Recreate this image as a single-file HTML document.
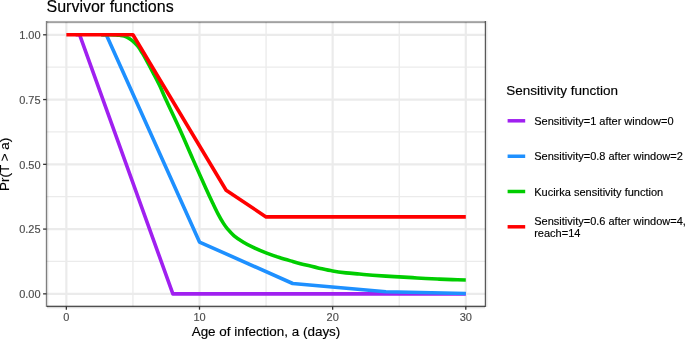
<!DOCTYPE html>
<html><head><meta charset="utf-8"><style>
html,body{margin:0;padding:0;background:#fff;}
svg{display:block;will-change:transform;}
text{font-family:"Liberation Sans",sans-serif;stroke-width:0.15px;}
.k{stroke:#000;}
.mn{stroke:#EBEBEB;stroke-width:1.3;}
.mj{stroke:#EBEBEB;stroke-width:2.2;}
.tk{stroke:#333333;stroke-width:1.3;}
.tl{font-size:11px;fill:#4D4D4D;stroke:#4D4D4D;}
.lt{font-size:11px;fill:#000;stroke:#000;}
.dl{fill:none;stroke-width:3.6;stroke-linejoin:round;stroke-linecap:butt;}
</style></head><body>
<svg width="685" height="339" viewBox="0 0 685 339">
<rect width="685" height="339" fill="#fff"/>
<line x1="132.93" y1="22.0" x2="132.93" y2="306.4" class="mn"/><line x1="266.07" y1="22.0" x2="266.07" y2="306.4" class="mn"/><line x1="399.23" y1="22.0" x2="399.23" y2="306.4" class="mn"/><line x1="46.4" y1="261.47" x2="485.45" y2="261.47" class="mn"/><line x1="46.4" y1="196.71" x2="485.45" y2="196.71" class="mn"/><line x1="46.4" y1="131.94" x2="485.45" y2="131.94" class="mn"/><line x1="46.4" y1="67.18" x2="485.45" y2="67.18" class="mn"/><line x1="66.35" y1="22.0" x2="66.35" y2="306.4" class="mj"/><line x1="199.50" y1="22.0" x2="199.50" y2="306.4" class="mj"/><line x1="332.65" y1="22.0" x2="332.65" y2="306.4" class="mj"/><line x1="465.80" y1="22.0" x2="465.80" y2="306.4" class="mj"/><line x1="46.4" y1="293.85" x2="485.45" y2="293.85" class="mj"/><line x1="46.4" y1="229.09" x2="485.45" y2="229.09" class="mj"/><line x1="46.4" y1="164.33" x2="485.45" y2="164.33" class="mj"/><line x1="46.4" y1="99.56" x2="485.45" y2="99.56" class="mj"/><line x1="46.4" y1="34.80" x2="485.45" y2="34.80" class="mj"/>
<polyline points="75.67,34.80 79.66,34.80 172.87,293.85 465.80,293.85" class="dl" stroke="#A020F0"/>
<polyline points="102.30,34.80 106.29,34.80 199.50,242.04 292.70,283.49 385.91,291.78 465.80,293.44" class="dl" stroke="#1E90FF"/>
<path d="M100.97,34.80 C102.30,34.80 106.74,34.77 108.96,34.80 C111.18,34.83 112.51,34.89 114.28,34.98 C116.06,35.07 117.95,35.13 119.61,35.32 C121.27,35.50 122.61,35.53 124.27,36.10 C125.93,36.66 127.93,37.65 129.60,38.69 C131.26,39.72 132.81,40.97 134.26,42.31 C135.70,43.65 136.92,44.95 138.25,46.72 C139.58,48.49 140.91,50.73 142.25,52.93 C143.58,55.14 144.46,56.69 146.24,59.93 C148.02,63.17 150.68,68.13 152.90,72.36 C155.12,76.59 157.34,80.65 159.56,85.31 C161.77,89.98 162.88,93.09 166.21,100.34 C169.54,107.59 175.09,119.03 179.53,128.84 C183.97,138.64 188.40,149.13 192.84,159.14 C197.28,169.16 202.83,181.59 206.16,188.93 C209.49,196.27 210.82,198.99 212.81,203.18 C214.81,207.37 216.37,210.69 218.14,214.06 C219.92,217.43 221.91,220.93 223.47,223.39 C225.02,225.85 225.69,226.76 227.46,228.83 C229.24,230.90 231.46,233.58 234.12,235.82 C236.78,238.07 240.33,240.40 243.44,242.30 C246.55,244.20 248.99,245.45 252.76,247.22 C256.53,248.99 261.64,251.19 266.07,252.92 C270.51,254.65 274.95,256.16 279.39,257.58 C283.83,259.01 288.27,260.22 292.70,261.47 C297.14,262.72 301.58,263.97 306.02,265.10 C310.46,266.22 314.90,267.21 319.33,268.20 C323.77,269.20 328.21,270.28 332.65,271.05 C337.09,271.83 341.53,272.37 345.97,272.87 C350.40,273.36 354.84,273.64 359.28,274.03 C363.72,274.42 368.16,274.85 372.60,275.20 C377.03,275.54 381.47,275.82 385.91,276.11 C390.35,276.39 394.79,276.62 399.23,276.88 C403.66,277.14 408.10,277.40 412.54,277.66 C416.98,277.92 421.42,278.20 425.86,278.44 C430.29,278.67 434.73,278.89 439.17,279.08 C443.61,279.28 448.05,279.45 452.49,279.60 C456.92,279.75 463.58,279.93 465.80,279.99" class="dl" stroke="#00CD00"/>
<polyline points="66.35,34.80 132.93,34.80 226.13,190.23 266.07,216.91 465.80,216.91" class="dl" stroke="#FF0000"/>
<rect x="45" y="21" width="1" height="286" fill="#000" fill-opacity="0.09"/><rect x="46" y="21" width="1" height="286" fill="#000" fill-opacity="0.5"/><rect x="47" y="21" width="1" height="286" fill="#000" fill-opacity="0.14"/><rect x="48" y="21" width="1" height="286" fill="#000" fill-opacity="0.04"/><rect x="484" y="21" width="1" height="286" fill="#000" fill-opacity="0.15"/><rect x="485" y="21" width="1" height="286" fill="#000" fill-opacity="0.65"/><rect x="486" y="21" width="1" height="286" fill="#000" fill-opacity="0.1"/><rect x="487" y="21" width="1" height="286" fill="#000" fill-opacity="0.04"/><rect x="47" y="20" width="438" height="1" fill="#000" fill-opacity="0.02"/><rect x="47" y="21" width="438" height="1" fill="#000" fill-opacity="0.31"/><rect x="47" y="22" width="438" height="1" fill="#000" fill-opacity="0.37"/><rect x="47" y="23" width="438" height="1" fill="#000" fill-opacity="0.06"/><rect x="47" y="305" width="438" height="1" fill="#000" fill-opacity="0.22"/><rect x="47" y="306" width="438" height="1" fill="#000" fill-opacity="0.69"/><rect x="47" y="307" width="438" height="1" fill="#000" fill-opacity="0.15"/><rect x="47" y="308" width="438" height="1" fill="#000" fill-opacity="0.04"/>
<line x1="66.35" y1="306.4" x2="66.35" y2="309.7" class="tk"/><text x="66.35" y="320.5" text-anchor="middle" class="tl">0</text><line x1="199.50" y1="306.4" x2="199.50" y2="309.7" class="tk"/><text x="199.50" y="320.5" text-anchor="middle" class="tl">10</text><line x1="332.65" y1="306.4" x2="332.65" y2="309.7" class="tk"/><text x="332.65" y="320.5" text-anchor="middle" class="tl">20</text><line x1="465.80" y1="306.4" x2="465.80" y2="309.7" class="tk"/><text x="465.80" y="320.5" text-anchor="middle" class="tl">30</text><line x1="43.1" y1="293.85" x2="46.4" y2="293.85" class="tk"/><text x="40.6" y="298.05" text-anchor="end" class="tl">0.00</text><line x1="43.1" y1="229.09" x2="46.4" y2="229.09" class="tk"/><text x="40.6" y="233.29" text-anchor="end" class="tl">0.25</text><line x1="43.1" y1="164.33" x2="46.4" y2="164.33" class="tk"/><text x="40.6" y="168.53" text-anchor="end" class="tl">0.50</text><line x1="43.1" y1="99.56" x2="46.4" y2="99.56" class="tk"/><text x="40.6" y="103.76" text-anchor="end" class="tl">0.75</text><line x1="43.1" y1="34.80" x2="46.4" y2="34.80" class="tk"/><text x="40.6" y="39.00" text-anchor="end" class="tl">1.00</text>
<text x="46.5" y="11.5" font-size="16px" fill="#000" class="k">Survivor functions</text>
<text x="266" y="335.6" font-size="13.45px" fill="#000" class="k" text-anchor="middle">Age of infection, a (days)</text>
<text transform="translate(9.2,164.4) rotate(-90)" font-size="13.5px" fill="#000" class="k" text-anchor="middle">Pr(T &gt; a)</text>
<text x="506.2" y="95.2" font-size="13.5px" fill="#000" class="k">Sensitivity function</text>
<line x1="507.6" y1="120.8" x2="525.2" y2="120.8" stroke="#A020F0" stroke-width="3.5"/><text x="534.2" y="124.80" class="lt">Sensitivity=1 after window=0</text><line x1="507.6" y1="156.25" x2="525.2" y2="156.25" stroke="#1E90FF" stroke-width="3.5"/><text x="534.2" y="160.25" class="lt">Sensitivity=0.8 after window=2</text><line x1="507.6" y1="191.5" x2="525.2" y2="191.5" stroke="#00CD00" stroke-width="3.5"/><text x="534.2" y="195.50" class="lt">Kucirka sensitivity function</text><line x1="507.6" y1="226.8" x2="525.2" y2="226.8" stroke="#FF0000" stroke-width="3.5"/><text x="534.2" y="224.95" class="lt">Sensitivity=0.6 after window=4,</text><text x="534.2" y="236.65" class="lt">reach=14</text>
</svg>
</body></html>
